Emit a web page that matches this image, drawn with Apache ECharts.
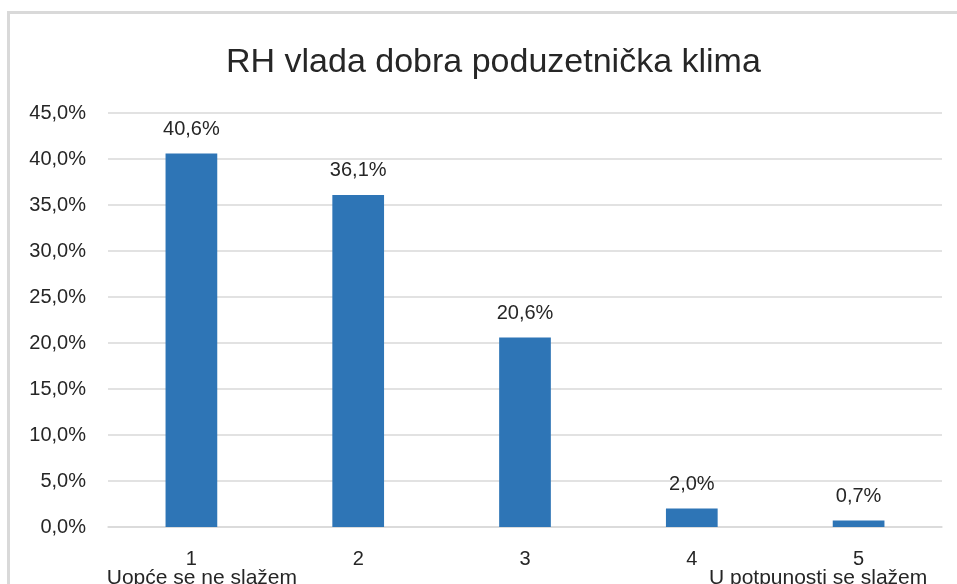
<!DOCTYPE html>
<html>
<head>
<meta charset="utf-8">
<script src="https://cdn.jsdelivr.net/npm/echarts@6/dist/echarts.min.js"></script>
<style>
  html, body { margin: 0; padding: 0; background: #fff; }
  #main { width: 957px; height: 584px; }
</style>
</head>
<body>
<div id="main"></div>
<script>
    // podaci
    var chartTitle = 'RH vlada dobra poduzetnička klima';
    var categories = ['1', '2', '3', '4', '5'];
    var scaleNotes = ['Uopće se ne slažem', '', '', '', 'U potpunosti se slažem'];
    var shares = [40.6, 36.1, 20.6, 2.0, 0.7];
    var yMin = 0;
    var yMax = 45;
    var yStep = 5;

    function pct(v) {
        return v.toFixed(1).replace('.', ',') + '%';
    }

    var fontFam = '"Liberation Sans", Arial, sans-serif';
    var textColor = '#262626';

    var myChart = echarts.init(document.getElementById('main'));
    var option = {
        backgroundColor: '#ffffff',
        animation: false,
        title: {
            text: chartTitle,
            left: 221,
            top: 41,
            textStyle: {
                fontFamily: fontFam,
                fontSize: 34,
                fontWeight: 'normal',
                color: textColor
            }
        },
        graphic: [
            {
                // okvir grafikona
                type: 'rect',
                silent: true,
                shape: { x: 8.5, y: 12.5, width: 1000, height: 700 },
                style: { fill: 'none', stroke: '#d9d9d9', lineWidth: 3 }
            }
        ],
        grid: {
            left: 108,
            right: 15,
            top: 113,
            bottom: 57,
            outerBoundsMode: 'none'
        },
        xAxis: {
            type: 'category',
            data: categories,
            axisTick: { show: false },
            axisLine: { lineStyle: { color: '#d9d9d9', width: 1.5 } },
            axisLabel: {
                interval: 0,
                margin: 23,
                fontFamily: fontFam,
                fontSize: 20,
                color: textColor,
                formatter: function (value, idx) {
                    var note = scaleNotes[idx];
                    if (!note) {
                        return '{n|' + value + '}';
                    }
                    return '{n|' + value + '}\n{' + (idx === 0 ? 'a' : 'b') + '|' + note + '}';
                },
                rich: {
                    n: { fontFamily: fontFam, fontSize: 20, color: textColor, lineHeight: 19 },
                    a: { fontFamily: fontFam, fontSize: 21, color: textColor, lineHeight: 19, padding: [0, 0, 0, 21] },
                    b: { fontFamily: fontFam, fontSize: 21, color: textColor, lineHeight: 19, padding: [0, 81, 0, 0] }
                }
            }
        },
        yAxis: {
            type: 'value',
            min: yMin,
            max: yMax,
            interval: yStep,
            axisLine: { show: false },
            axisTick: { show: false },
            splitLine: { lineStyle: { color: '#d9d9d9', width: 1.5 } },
            axisLabel: {
                margin: 22,
                fontFamily: fontFam,
                fontSize: 20,
                color: textColor,
                formatter: function (v) {
                    return pct(v);
                }
            }
        },
        series: [
            {
                type: 'bar',
                data: shares,
                barWidth: '31%',
                itemStyle: { color: '#2E75B6' },
                label: {
                    show: true,
                    position: 'top',
                    distance: 14,
                    fontFamily: fontFam,
                    fontSize: 20,
                    color: textColor,
                    formatter: function (p) {
                        return pct(p.value);
                    }
                }
            }
        ]
    };
    myChart.setOption(option);
</script>
</body>
</html>
